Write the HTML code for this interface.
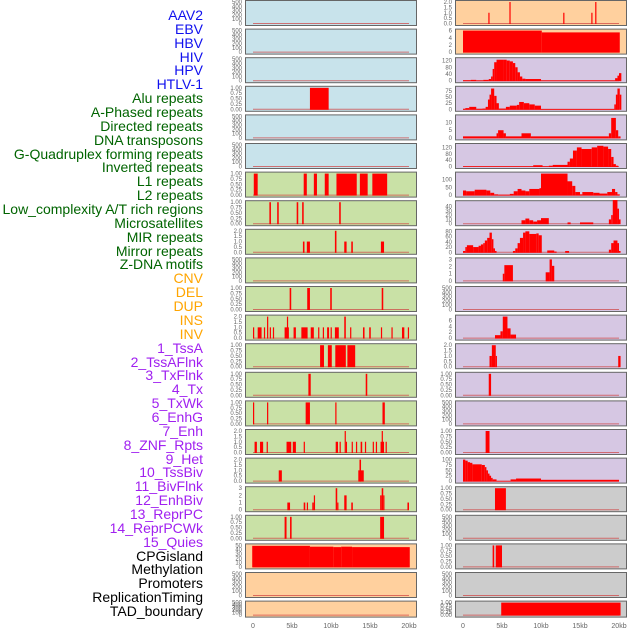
<!DOCTYPE html>
<html><head><meta charset="utf-8"><style>
html,body{margin:0;padding:0;background:#fff;}
#wrap{position:relative;width:630px;height:630px;overflow:hidden;font-family:"Liberation Sans",sans-serif;}
.lab{position:absolute;right:427px;font-size:14px;line-height:14px;white-space:nowrap;}
svg{position:absolute;left:0;top:0;}
</style></head><body>
<div id="wrap">
<div id="labels"></div>
<svg id="chart" width="630" height="630"></svg>
</div>
<script>
// ---- data ----
const trackNames = ["AAV2","EBV","HBV","HIV","HPV","HTLV-1","Alu repeats","A-Phased repeats","Directed repeats","DNA transposons","G-Quadruplex forming repeats","Inverted repeats","L1 repeats","L2 repeats","Low_complexity A/T rich regions","Microsatellites","MIR repeats","Mirror repeats","Z-DNA motifs","CNV","DEL","DUP","INS","INV","1_TssA","2_TssAFlnk","3_TxFlnk","4_Tx","5_TxWk","6_EnhG","7_Enh","8_ZNF_Rpts","9_Het","10_TssBiv","11_BivFlnk","12_EnhBiv","13_ReprPC","14_ReprPCWk","15_Quies","CPGisland","Methylation","Promoters","ReplicationTiming","TAD_boundary"];
const trackGroups = [6,13,5,15,5];
const groupColors = ["#1010ee","#006400","#ffa500","#a020f0","#000000"];
const xTickKb = [0,5,10,15,20];
const xTickLabels = ["0","5kb","10kb","15kb","20kb"];
const leftBg = ["#c8e3eb","#c8e3eb","#c8e3eb","#c8e3eb","#c8e3eb","#c8e3eb","#c9e1a6","#c9e1a6","#c9e1a6","#c9e1a6","#c9e1a6","#c9e1a6","#c9e1a6","#c9e1a6","#c9e1a6","#c9e1a6","#c9e1a6","#c9e1a6","#c9e1a6","#ffd09e","#ffd09e","#ffd09e"];
const rightBg = ["#ffd09e","#ffd09e","#d6c7e3","#d6c7e3","#d6c7e3","#d6c7e3","#d6c7e3","#d6c7e3","#d6c7e3","#d6c7e3","#d6c7e3","#d6c7e3","#d6c7e3","#d6c7e3","#d6c7e3","#d6c7e3","#d6c7e3","#cccccc","#cccccc","#cccccc","#cccccc","#cccccc"];

const ticksEmpty = [0,100,200,300,400,500];
const ticksOne = [0,0.25,0.5,0.75,1];
const ticksTwo = [0,0.5,1,1.5,2];

const L_alu = [[7.3,9.7,1]];
const L_l1 = [[0.1,0.6,1],[6.5,6.9,1],[7.8,8.2,1],[9.2,9.7,1],[10.7,13.3,1],[13.7,14.7,1],[15.3,17.2,1]];
const L_l2 = [[2.1,2.3,1],[3.1,3.3,1],[5.6,5.8,1],[6.3,6.5,1],[11.05,11.25,1]];
const L_lowc = [[6.4,6.6,1],[6.9,7.3,1],[10.5,10.7,2],[11.7,12.0,1],[12.6,12.8,1],[16.4,16.8,1]];
const L_micro = [[4.7,4.9,1],[6.95,7.3,1],[9.9,10.1,1],[16.5,16.7,1]];
const L_mir = [[0,0.15,1],[0.6,1.1,1],[1.4,1.55,1],[1.8,1.95,2],[2.15,2.3,1],[2.55,2.7,1],[4.05,4.6,1],[4.35,4.5,2],[5.2,5.5,1],[6.2,7.0,1],[7.4,7.8,1],[8.35,8.5,1],[8.95,9.1,1],[9.5,9.75,1],[9.95,10.1,1],[10.5,11.0,1],[11.7,11.9,2],[12.45,12.6,1],[14.1,14.3,1],[14.9,15.1,1],[16.4,16.55,1],[17.75,17.9,1],[19.1,19.4,1],[19.85,20.0,1]];
const L_tssa = [[8.6,9.1,1],[9.6,10.1,1],[10.55,11.9,1],[12.1,13.1,1]];
const L_tssafl = [[7.1,7.4,1],[14.45,14.65,1]];
const L_txflnk = [[0,0.15,1],[1.8,1.95,1],[6.75,7.3,1],[10.55,10.7,1],[16.6,16.9,1]];
const L_tx = [[0.2,0.5,1],[0.9,1.3,1],[1.75,1.9,1],[4.3,4.9,1],[5.1,5.5,1],[6.5,6.65,1],[10.6,10.9,1],[11.1,11.25,1],[11.75,11.9,2],[11.9,12.0,1],[12.65,12.8,1],[13.2,13.35,1],[13.8,14.0,1],[14.35,14.5,1],[15.35,15.5,1],[15.75,15.9,1],[16.35,16.8,1],[16.5,16.65,2],[17.0,17.15,1]];
const L_txwk = [[3.3,3.7,1],[13.5,14.2,1],[13.65,13.85,2]];
const L_enhg = [[4.4,4.75,1],[6.5,6.7,1],[6.9,7.05,1],[7.6,7.8,1],[7.8,7.95,2],[10.6,10.8,3],[10.8,10.95,1],[11.7,12.0,2],[12.6,12.8,1],[16.3,16.5,2],[16.5,16.7,3],[16.7,16.8,2],[19.8,20.0,1]];
const L_enh = [[4.05,4.3,1],[4.75,4.95,1],[16.3,16.8,1]];
const L_cpg = [[-0.1,7.3,49],[7.3,10.3,47],[10.3,11.3,46],[11.3,12.7,47],[12.7,20.1,46]];

const R_aav2 = [[3.25,3.4,1],[5.95,6.1,2],[12.85,13.0,1],[16.45,16.6,1],[16.95,17.1,2]];
const R_ebv = [[0,10.1,6],[10.1,20.1,5.5]];
const R_hiv = [[0,3],[1,5],[1.7,2],[2.6,5],[3.3,10],[3.6,25],[3.8,70],[4.0,110],[4.3,125],[5.2,125],[5.6,120],[6.0,115],[6.4,105],[6.7,80],[7.0,50],[7.3,25],[7.6,12],[8.0,10],[10.0,2],[19.5,15],[19.8,30],[20.0,45],[20.3,0]];
const R_alu = [[0,2],[0.3,5],[0.8,10],[1.7,2],[2.5,3],[2.9,10],[3.2,40],[3.4,60],[3.6,85],[4.0,55],[4.3,25],[4.6,3],[5.5,10],[6.0,15],[6.9,18],[7.2,30],[7.8,25],[8.5,20],[9.2,15],[10.0,1],[19.4,20],[19.6,60],[19.8,85],[20.1,60],[20.3,0]];
const R_aphased = [[0,1],[4.3,3],[4.5,5],[5.2,3],[5.5,1],[7.5,3],[8.7,1],[18.7,3],[19.0,13],[19.6,5],[19.9,1],[20.2,0]];
const R_directed = [[0,1],[9.0,8],[10.2,1],[11.0,5],[11.5,10],[13.4,30],[13.7,50],[14.1,100],[14.6,120],[15.2,110],[16.5,120],[17.2,130],[18.0,125],[18.6,110],[19.0,60],[19.3,15],[19.6,5],[19.9,0]];
const R_inverted = [[0,30],[0.4,25],[1.5,35],[3.0,30],[3.5,15],[4.0,5],[4.5,3],[6.0,8],[6.5,25],[7.0,40],[7.5,30],[8.0,25],[8.5,40],[9.8,45],[10.0,140],[13.4,90],[14.0,60],[14.4,20],[15.0,5],[15.3,20],[16.7,15],[17.5,10],[18.5,20],[19.1,40],[19.5,20],[19.8,5],[20.1,0]];
const R_l1 = [[0,0],[7.5,8],[8.0,12],[8.5,8],[9.0,5],[9.5,8],[10.0,13],[11.0,0],[13.4,3],[13.8,0],[15.0,3],[16.7,0],[18.7,10],[19.0,20],[19.2,55],[19.8,35],[20.0,10],[20.2,0]];
const R_l2 = [[0,5],[0.3,20],[0.5,27],[1.3,20],[2.0,25],[2.3,30],[2.6,35],[2.8,45],[3.1,55],[3.4,75],[3.7,50],[3.9,15],[4.1,5],[4.3,0],[6.4,5],[6.7,15],[7.0,35],[7.3,55],[7.7,75],[8.0,80],[8.5,70],[9.4,72],[9.7,65],[10.1,0],[10.8,7],[11.7,3],[12.0,0],[13.1,5],[13.6,0],[18.7,10],[19.0,35],[19.3,45],[19.8,35],[20.0,5],[20.2,0]];
const R_low = [[5.1,1],[5.3,2.2],[6.4,0],[10.6,1.2],[11.1,3],[11.4,2.1],[11.7,0]];
const R_mir = [[4.1,1],[4.8,2.3],[5.1,7.3],[5.7,3.3],[6.1,1.2],[6.8,0]];
const R_tssa = [[3.4,1],[3.7,2],[4.2,1],[4.3,0],[19.9,1],[20.2,0]];
const R_tssafl = [[3.3,1],[3.6,0]];
const R_tx = [[2.9,1],[3.4,0]];
const R_txwk = [[0,100],[0.3,95],[0.6,88],[0.9,85],[1.2,78],[2.4,75],[2.8,65],[3.0,50],[3.2,35],[3.4,25],[3.6,15],[3.8,8],[4.3,1],[6.1,8],[6.8,12],[10.0,6],[20.0,0]];
const R_enhg = [[4.1,1],[5.5,0]];
const R_cpg = [[3.8,1],[4.0,0],[4.2,1],[5.0,0]];
const R_tad = [[4.9,1],[20.2,0]];

function steps(p){const out=[];for(let i=0;i<p.length-1;i++){out.push([p[i][0],p[i+1][0],p[i][1]]);}return out;}

const leftPanels = [
 [[],500,ticksEmpty],[[],500,ticksEmpty],[[],500,ticksEmpty],[L_alu,1,ticksOne],[[],500,ticksEmpty],[[],500,ticksEmpty],
 [L_l1,1,ticksOne],[L_l2,1,ticksOne],[L_lowc,2,ticksTwo],[[],500,ticksEmpty],[L_micro,1,ticksOne],[L_mir,2,ticksTwo],
 [L_tssa,1,ticksOne],[L_tssafl,1,ticksOne],[L_txflnk,1,ticksOne],[L_tx,2,ticksTwo],[L_txwk,2,ticksTwo],[L_enhg,3,[0,1,2,3]],
 [L_enh,1,ticksOne],[L_cpg,50,[0,10,20,30,40,50]],[[],500,ticksEmpty],[[],500,ticksEmpty]
];
const rightPanels = [
 [R_aav2,2,ticksTwo],[R_ebv,6,[0,2,4,6]],[steps(R_hiv),128,[0,40,80,120]],[steps(R_alu),88,[0,25,50,75]],[steps(R_aphased),14,[0,5,10]],[steps(R_directed),135,[0,40,80,120]],
 [steps(R_inverted),140,[0,50,100]],[steps(R_l1),50,[0,10,20,30,40]],[steps(R_l2),82,[0,20,40,60,80]],[steps(R_low),3,[0,1,2,3]],[[],500,ticksEmpty],[steps(R_mir),7.3,[0,2,4,6]],
 [steps(R_tssa),2,ticksTwo],[steps(R_tssafl),1,ticksOne],[[],500,ticksEmpty],[steps(R_tx),1,ticksOne],[steps(R_txwk),100,[0,25,50,75,100]],[steps(R_enhg),1,ticksOne],
 [[],500,ticksEmpty],[steps(R_cpg),1,ticksOne],[[],500,ticksEmpty],[steps(R_tad),1,ticksOne]
];

const NS="http://www.w3.org/2000/svg";
const svg=document.getElementById('chart');
const labels=document.getElementById('labels');
let gi=0,gc=0;
trackNames.forEach((n,i)=>{
  while(gc>=trackGroups[gi]){gi++;gc=0;}
  gc++;
  const d=document.createElement('div');
  d.className='lab';
  d.style.top=(8+i*13.86)+'px';
  d.style.color=groupColors[gi];
  d.textContent=n;
  
  
  labels.appendChild(d);
});
function el(tag,attrs,parent){const e=document.createElementNS(NS,tag);for(const k in attrs)e.setAttribute(k,attrs[k]);(parent||svg).appendChild(e);return e;}
const colLeft=[245,455], colW=171, zeroX=[253,463], kbPx=7.8;
function fmt(t,ticks){
  if(ticks===ticksOne) return t.toFixed(2);
  if(ticks===ticksTwo) return t.toFixed(1);
  return String(t);
}
function drawPanel(col,row,panel,bg){
  const top=row*28.6, h=(row===21?16:25);
  const g=el('g',{});
  
  
  el('rect',{x:colLeft[col]+0.5,y:top+0.5,width:colW,height:h,fill:bg,stroke:'#666','stroke-width':1},g);
  const [bars,max,ticks]=panel;
  const y0=top+h-1.5, yr=h-3.5;
  const yS=v=>y0-v/max*yr, xS=kb=>zeroX[col]+kb*kbPx;
  ticks.forEach(t=>{
    const tx=el('text',{x:colLeft[col]-3,y:yS(t)+2,'font-size':6,fill:'#666','text-anchor':'end'},g);
    tx.textContent=fmt(t,ticks);
    
    
  });
  el('line',{x1:xS(0),x2:xS(20),y1:y0,y2:y0,stroke:'#d04040','stroke-width':1,opacity:0.7},g);
  bars.forEach(b=>{
    if(b[2]<=0)return;
    const r=el('rect',{x:xS(b[0]),y:yS(b[2]),width:Math.max(1.2,(b[1]-b[0])*kbPx),height:y0-yS(b[2])+0.5,fill:'#ff0000'},g);
    
    
  });
}
leftPanels.forEach((p,i)=>drawPanel(0,i,p,leftBg[i]));
rightPanels.forEach((p,i)=>drawPanel(1,i,p,rightBg[i]));
[0,1].forEach(c=>{
  xTickKb.forEach((k,i)=>{
    const t=el('text',{x:zeroX[c]+k*kbPx,y:628,'font-size':7,fill:'#666','text-anchor':'middle'});
    t.textContent=xTickLabels[i];
    
    
  });
});
</script>
</body></html>
